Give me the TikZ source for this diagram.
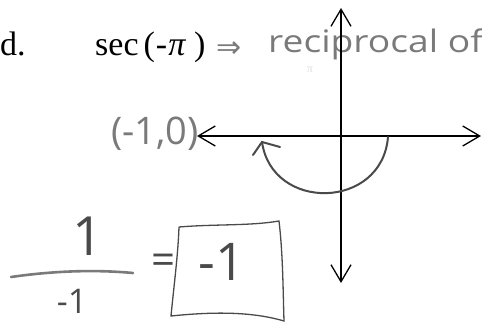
\documentclass[tikz,border=0pt]{standalone}
\usepackage{fontspec}
\setmainfont{Liberation Serif}
\newfontfamily\hand{Open Sans}
\newfontfamily\symb{DejaVu Sans}
\usetikzlibrary{arrows.meta}
\definecolor{pencil}{HTML}{7A7A7A}
\definecolor{darkpencil}{HTML}{4A4A4A}
\tikzset{
  printed/.style={inner sep=0pt, font=\fontsize{34}{34}\selectfont, text=black},
  handtext/.style={inner sep=0pt, text=pencil},
  axis/.style={line width=1.3pt, draw=black, {Straight Barb[length=17pt,width=20pt,line width=1.3pt]}-{Straight Barb[length=17pt,width=20pt,line width=1.3pt]}},
  stroke/.style={line width=2pt, draw=darkpencil, line cap=round},
}
\begin{document}
\begin{tikzpicture}[x=1pt,y=-1pt]
\useasboundingbox[fill=white] (0,0) rectangle (482,323);
% printed text
\node[printed, anchor=base west] (lbl) at (0,56) {d.};
\node[printed, anchor=base west] (sec) at (95,56) {sec\hspace{5pt}(\hspace{1pt}-\hspace{1pt}\textit{π}\hspace{8pt})};
\node[handtext, font=\symb\fontsize{30}{30}\selectfont, xscale=1.0, anchor=center] (impl) at (229,50) {⇒};
\node[handtext, font=\hand\fontsize{31}{31}\selectfont, xscale=1.2, anchor=base west] (recip) at (268,53) {reciprocal of};
\node[handtext, text=black!12, font=\fontsize{12}{12}\selectfont] (faintpi) at (310,70) {π};
% axes
\coordinate (top) at (341,8);
\coordinate (bot) at (341,283);
\coordinate (left) at (197,136);
\coordinate (right) at (481,136);
\draw[axis] (bot) -- (top);
\draw[axis] (left) -- (right);
% point label
\node[handtext, font=\hand\fontsize{38}{38}\selectfont] (pt) at (155,134) {(-1,0)};
% rotation arrow
\coordinate (arcstart) at (388,137);
\coordinate (arcend) at (262,142);
\coordinate (wingL) at (253,155);
\coordinate (wingR) at (280,147);
\draw[stroke] (arcstart) .. controls (382,210) and (272,212) .. (arcend);
\draw[stroke] (wingL) -- (arcend) -- (wingR);
% fraction
\node[handtext, text=darkpencil, font=\hand\fontsize{54}{54}\selectfont] (num) at (88,236) {1};
\coordinate (barL) at (11,277);
\coordinate (barR) at (133,273);
\draw[line width=2.6pt, draw=pencil, line cap=round] (barL) .. controls (60,270) and (100,270) .. (barR);
\node[handtext, text=darkpencil, font=\hand\fontsize{34}{34}\selectfont, text depth=0pt, anchor=base] (den) at (72,313) {-1};
\node[handtext, text=darkpencil, font=\hand\fontsize{42}{42}\selectfont] (eq) at (164,264) {=};
% answer box
\coordinate (bTL) at (179,227);
\coordinate (bTR) at (279,221);
\coordinate (bBR) at (284,321);
\coordinate (bBL) at (171,316);
\draw[line width=1.3pt, draw=darkpencil] (bTL) .. controls (215,224) and (250,226) .. (bTR)
  .. controls (283,255) and (283,290) .. (bBR)
  .. controls (250,311) and (210,312) .. (bBL)
  .. controls (174,285) and (178,255) .. (bTL);
\node[handtext, text=darkpencil, font=\hand\fontsize{52}{52}\selectfont] (ans) at (222,262) {-1};
\end{tikzpicture}
\end{document}
